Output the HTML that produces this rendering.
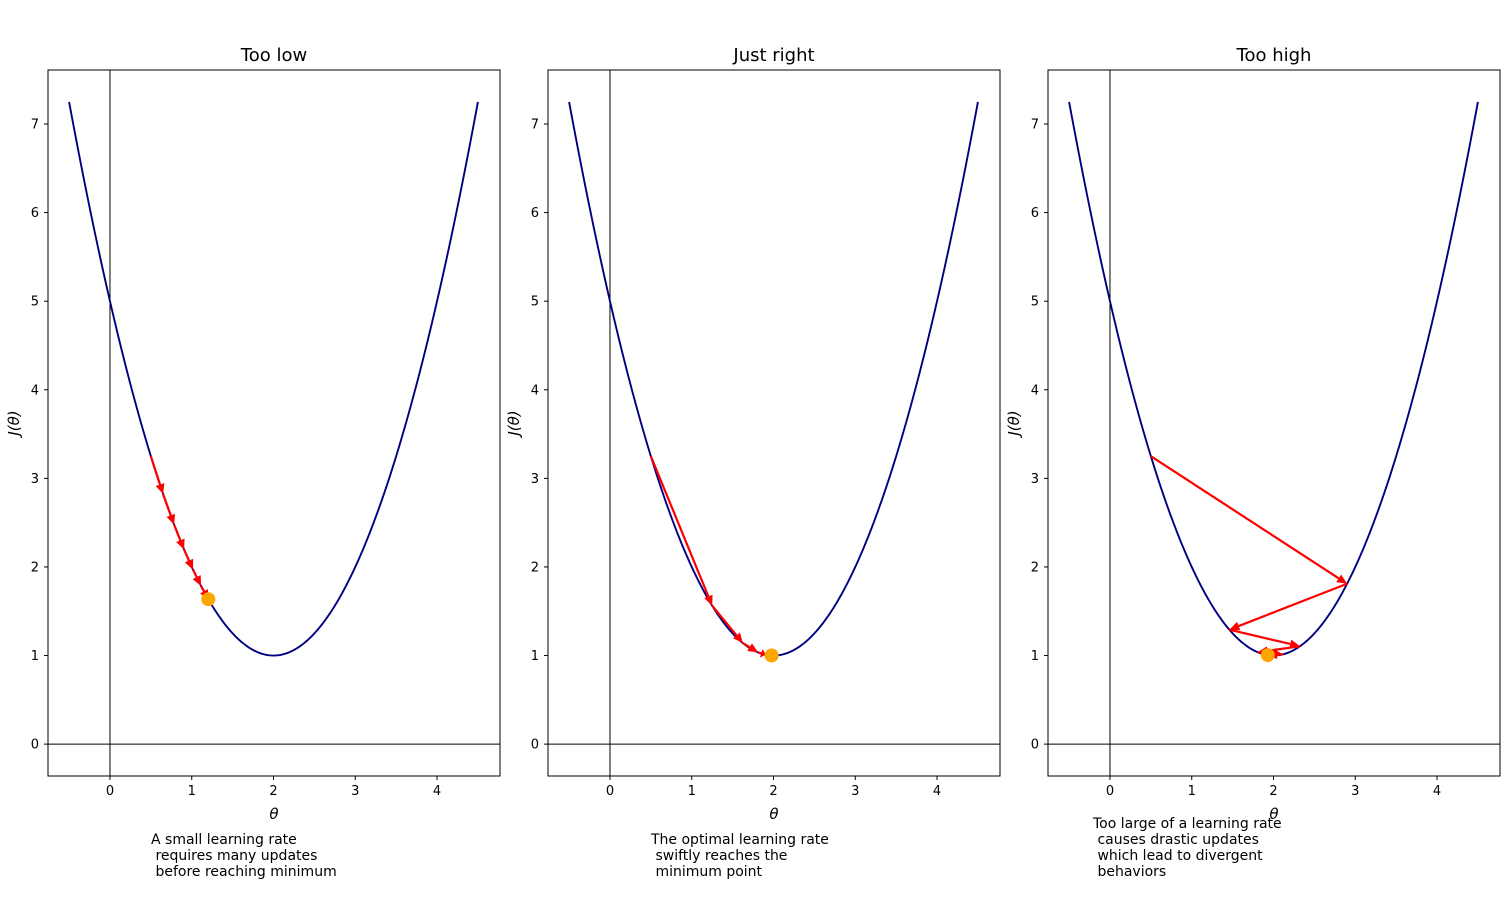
<!DOCTYPE html>
<html><head><meta charset="utf-8"><style>
body{margin:0;background:#fff;}
svg text{font-family:"DejaVu Sans","Liberation Sans",sans-serif;}
</style></head><body>
<svg id="fig" width="1512" height="909" xmlns="http://www.w3.org/2000/svg"></svg>
<script>
const titles = ["Too low","Just right","Too high"];
const captions = [
 ["A small learning rate"," requires many updates"," before reaching minimum"],
 ["The optimal learning rate"," swiftly reaches the"," minimum point"],
 ["Too large of a learning rate"," causes drastic updates"," which lead to divergent"," behaviors"]
];
const steps0 = [0.5,0.65,0.785,0.9065,1.0159,1.1143,1.2028];
const steps1 = [0.5,1.25,1.625,1.8125,1.906,1.953,1.977];
const steps2 = [0.5,2.9,1.46,2.324,1.806,2.117,1.93];
const stepsAll = [steps0, steps1, steps2];
const xTicks = [0,1,2,3,4];
const yTicks = [0,1,2,3,4,5,6,7];
const panelLefts = [48,548,1048];
const NS="http://www.w3.org/2000/svg";
const svg=document.getElementById('fig');
function el(tag,attrs,parent){const e=document.createElementNS(NS,tag);for(const k in attrs)e.setAttribute(k,attrs[k]);(parent||svg).appendChild(e);return e;}
function J(t){return (t-2)*(t-2)+1;}
const PW=452,plotTop=70,plotBottom=776,xmin=-0.758,xmax=4.77,ymin=-0.36,ymax=7.61;
panelLefts.forEach((L,p)=>{
  const sx=v=>L+(v-xmin)/(xmax-xmin)*PW;
  const sy=v=>plotBottom-(v-ymin)/(ymax-ymin)*(plotBottom-plotTop);
  const g=el('g',{});
  
  
  let a=el('line',{x1:sx(0),x2:sx(0),y1:plotTop,y2:plotBottom,stroke:'#000','stroke-width':1},g);
  
  
  a=el('line',{x1:L,x2:L+PW,y1:sy(0),y2:sy(0),stroke:'#000','stroke-width':1},g);
  
  
  let d='';for(let i=0;i<=200;i++){const t=-0.5+5*i/200;d+=(i?'L':'M')+sx(t).toFixed(2)+','+sy(J(t)).toFixed(2);}
  const c=el('path',{d:d,fill:'none',stroke:'#000080','stroke-width':1.9},g);
  
  
  const s=stepsAll[p];
  for(let i=0;i<s.length-1;i++){
    const x1=sx(s[i]),y1=sy(J(s[i])),x2=sx(s[i+1]),y2=sy(J(s[i+1]));
    const dx=x2-x1,dy=y2-y1,len=Math.hypot(dx,dy),ux=dx/len,uy=dy/len;
    const hl=Math.min(10,len*0.6),hw=4.5;
    const bx=x2-ux*hl,by=y2-uy*hl;
    const ag=el('g',{},g);
    
    
    el('line',{x1:x1,y1:y1,x2:bx,y2:by,stroke:'#ff0000','stroke-width':2.2},ag);
    el('polygon',{points:`${x2},${y2} ${bx-uy*hw},${by+ux*hw} ${bx+uy*hw},${by-ux*hw}`,fill:'#ff0000'},ag);
  }
  const last=s[s.length-1];
  const dot=el('circle',{cx:sx(last),cy:sy(J(last)),r:7,fill:'orange'},g);
  
  
  const f=el('rect',{x:L,y:plotTop,width:PW,height:plotBottom-plotTop,fill:'none',stroke:'#000','stroke-width':1},g);
  
  
  xTicks.forEach(v=>{
    el('line',{x1:sx(v),x2:sx(v),y1:plotBottom,y2:plotBottom+4,stroke:'#000'},g);
    const t=el('text',{x:sx(v),y:plotBottom+19,'font-size':13,'text-anchor':'middle'},g);t.textContent=v;
    
    
  });
  yTicks.forEach(v=>{
    el('line',{x1:L-4,x2:L,y1:sy(v),y2:sy(v),stroke:'#000'},g);
    const t=el('text',{x:L-9,y:sy(v)+4.5,'font-size':13,'text-anchor':'end'},g);t.textContent=v;
    
    
  });
  let t=el('text',{x:L+PW/2,y:61,'font-size':18,'text-anchor':'middle'},g);t.textContent=titles[p];
  
  
  t=el('text',{x:L+PW/2,y:819,'font-size':15,'text-anchor':'middle','font-style':'italic'},g);t.textContent='θ';
  
  
  t=el('text',{x:0,y:0,'font-size':15,'text-anchor':'middle','font-style':'italic',transform:`translate(${L-29},${(plotTop+plotBottom)/2}) rotate(-90)`},g);t.textContent='J(θ)';
  
  
  const cap=captions[p];const cy0=880-(cap.length-1)*16-4;
  const cx=L+(p===2?45:103);
  const ct=el('text',{x:cx,y:cy0,'font-size':14},g);
  
  
  cap.forEach((line,i)=>{const ts=el('tspan',{x:cx,y:cy0+i*16},ct);ts.textContent=line.replace(/^ /,'\u00a0');});
});
</script>
</body></html>
